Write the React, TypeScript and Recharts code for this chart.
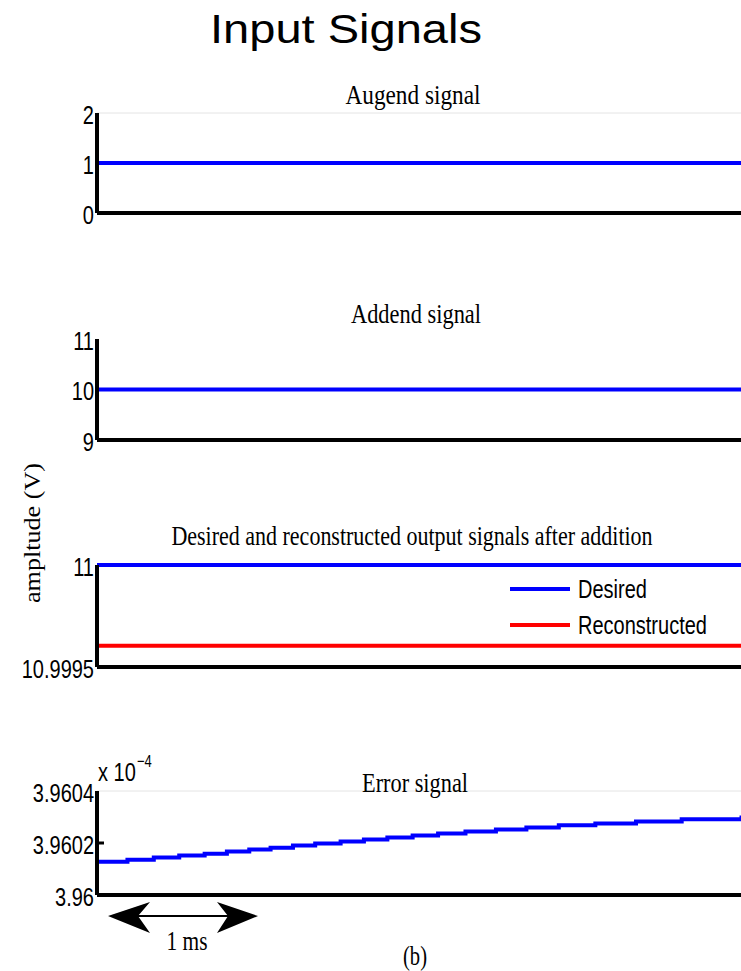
import React from "react";
import { LineChart, Line, XAxis, YAxis, ReferenceLine, Legend } from "recharts";

// time axis (ms) and the constant input / output signals
const timeMs = [0, 4.42];
const augend = [1, 1];
const addend = [10, 10];
const desired = [11, 11];
const reconstructed = [10.999604, 10.999604];

// error signal, shown in units of 1e-4 (stair steps)
const errorTimeMs = [
  0, 0.2, 0.373, 0.54, 0.707, 0.853, 1.0, 1.14, 1.287, 1.433, 1.6, 1.753,
  1.907, 2.073, 2.24, 2.42, 2.62, 2.82, 3.033, 3.273, 3.54, 3.84, 4.233, 4.42,
];
const errorValues = [
  3.960128, 3.960136, 3.960144, 3.960152, 3.960159, 3.960167, 3.960175,
  3.960182, 3.96019, 3.960198, 3.960206, 3.960213, 3.960221, 3.960229,
  3.960237, 3.960244, 3.960252, 3.96026, 3.960268, 3.960275, 3.960283,
  3.960291, 3.960298, 3.960298,
];

const augendTicks = [0, 1, 2];
const addendTicks = [9, 10, 11];
const outputTicks = [10.9995, 11];
const errorTicks = [3.96, 3.9602, 3.9604];

const SANS = "'Liberation Sans', Arial, sans-serif";
const SERIF = "'Liberation Serif', 'Times New Roman', serif";
const AXIS = { stroke: "#000", strokeWidth: 4 };

const makeTick = (innerTicks: boolean, min: number, max: number) =>
  function Tick(props: any) {
    const { x, y, payload } = props;
    const v = payload.value;
    return (
      <g>
        <text
          transform={`translate(${x},${y + 2}) scale(1,1.3)`}
          textAnchor="end"
          dominantBaseline="central"
          fontFamily={SANS}
          fontSize={20}
          fill="#000"
        >
          {String(v)}
        </text>
        {innerTicks && v !== min && v !== max && (
          <line x1={x + 3} x2={x + 10} y1={y} y2={y} stroke="#000" strokeWidth={3} />
        )}
      </g>
    );
  };

function renderLegend(props: any) {
  const items = props.payload || [];
  return (
    <div>
      {items.map((it: any) => (
        <div key={it.value} style={{ display: "flex", alignItems: "center", height: 36 }}>
          <svg width={66} height={8}>
            <line x1={0} x2={60} y1={4} y2={4} stroke={it.color} strokeWidth={4} />
          </svg>
          <span
            style={{
              fontFamily: SANS,
              fontSize: 20,
              color: "#000",
              marginLeft: 2,
              display: "inline-block",
              transform: "scaleY(1.3)",
            }}
          >
            {it.value}
          </span>
        </div>
      ))}
    </div>
  );
}

interface PanelProps {
  top: number;
  plotHeight: number;
  data: any[];
  ticks: number[];
  series: { key: string; name: string; color: string; type: "linear" | "stepAfter" }[];
  topLine?: boolean;
  innerTicks?: boolean;
  legend?: boolean;
}

function Panel({ top, plotHeight, data, ticks, series, topLine, innerTicks, legend }: PanelProps) {
  const min = ticks[0];
  const max = ticks[ticks.length - 1];
  return (
    <div style={{ position: "absolute", left: 0, top: top - 16 }}>
      <LineChart
        width={770}
        height={plotHeight + 40}
        data={data}
        margin={{ top: 16, right: 0, bottom: 22, left: 0 }}
      >
        <XAxis
          type="number"
          dataKey="t"
          domain={[0, 4.42]}
          tick={false}
          tickLine={false}
          axisLine={AXIS}
          height={2}
        />
        <YAxis
          type="number"
          domain={[min, max]}
          ticks={ticks}
          interval={0}
          width={97}
          tickSize={0}
          tickMargin={3}
          tickLine={false}
          axisLine={AXIS}
          tick={makeTick(!!innerTicks, min, max)}
        />
        {topLine && <ReferenceLine y={max} stroke="#e4e4e4" strokeWidth={1} />}
        {series.map((s) => (
          <Line
            key={s.key}
            type={s.type}
            dataKey={s.key}
            name={s.name}
            stroke={s.color}
            strokeWidth={4}
            dot={false}
            isAnimationActive={false}
          />
        ))}
        {legend && (
          <Legend
            layout="horizontal"
            verticalAlign="middle"
            align="center"
            content={renderLegend}
            wrapperStyle={{ position: "absolute", left: 510, top: 22, width: 230 }}
          />
        )}
      </LineChart>
    </div>
  );
}

export default function App() {
  const augData = timeMs.map((t, i) => ({ t, v: augend[i] }));
  const addData = timeMs.map((t, i) => ({ t, v: addend[i] }));
  const outData = timeMs.map((t, i) => ({ t, desired: desired[i], reconstructed: reconstructed[i] }));
  const errData = errorTimeMs.map((t, i) => ({ t, v: errorValues[i] }));

  return (
    <div
      style={{
        position: "absolute",
        left: 0,
        top: 0,
        width: 741,
        height: 971,
        overflow: "hidden",
        background: "#fff",
      }}
    >
      <Panel
        top={113}
        plotHeight={100}
        data={augData}
        ticks={augendTicks}
        topLine
        series={[{ key: "v", name: "Augend", color: "#0000ff", type: "linear" }]}
      />
      <Panel
        top={339}
        plotHeight={101}
        data={addData}
        ticks={addendTicks}
        series={[{ key: "v", name: "Addend", color: "#0000ff", type: "linear" }]}
      />
      <Panel
        top={565}
        plotHeight={102}
        data={outData}
        ticks={outputTicks}
        legend
        series={[
          { key: "desired", name: "Desired", color: "#0000ff", type: "linear" },
          { key: "reconstructed", name: "Reconstructed", color: "#ff0000", type: "linear" },
        ]}
      />
      <Panel
        top={791}
        plotHeight={104}
        data={errData}
        ticks={errorTicks}
        topLine
        innerTicks
        series={[{ key: "v", name: "Error", color: "#0000ff", type: "stepAfter" }]}
      />

      <svg
        width={741}
        height={971}
        style={{ position: "absolute", left: 0, top: 0, pointerEvents: "none" }}
      >
        <text x={346} y={43} textAnchor="middle" fontFamily={SANS} fontSize={40} textLength={272} lengthAdjust="spacingAndGlyphs">
          Input Signals
        </text>
        <text x={413} y={104} textAnchor="middle" fontFamily={SERIF} fontSize={27} textLength={135} lengthAdjust="spacingAndGlyphs">
          Augend signal
        </text>
        <text x={416} y={323} textAnchor="middle" fontFamily={SERIF} fontSize={27} textLength={130} lengthAdjust="spacingAndGlyphs">
          Addend signal
        </text>
        <text transform="translate(412,545) scale(1,1.25)" textAnchor="middle" fontFamily={SERIF} fontSize={22}>
          Desired and reconstructed output signals after addition
        </text>
        <text x={415} y={792} textAnchor="middle" fontFamily={SERIF} fontSize={27} textLength={106} lengthAdjust="spacingAndGlyphs">
          Error signal
        </text>
        <text
          x={40}
          y={533}
          transform="rotate(-90 40 533)"
          textAnchor="middle"
          fontFamily={SERIF}
          fontSize={24}
          textLength={140}
          lengthAdjust="spacingAndGlyphs"
        >
          ampltude (V)
        </text>
        <text transform="translate(98,781) scale(1,1.3)" fontFamily={SANS} fontSize={20}>
          x 10
        </text>
        <text transform="translate(137,767) scale(1,1.3)" fontFamily={SANS} fontSize={13}>
          −4
        </text>
        <line x1={136} x2={230} y1={916} y2={916} stroke="#000" strokeWidth={2} />
        <polygon points="108,916 150,902 138,916 150,933" fill="#000" />
        <polygon points="258,916 217,902 228,916 217,933" fill="#000" />
        <text x={187} y={950} textAnchor="middle" fontFamily={SERIF} fontSize={27} textLength={41} lengthAdjust="spacingAndGlyphs">
          1 ms
        </text>
        <text x={415} y={965} textAnchor="middle" fontFamily={SERIF} fontSize={27} textLength={24} lengthAdjust="spacingAndGlyphs">
          (b)
        </text>
      </svg>
    </div>
  );
}
